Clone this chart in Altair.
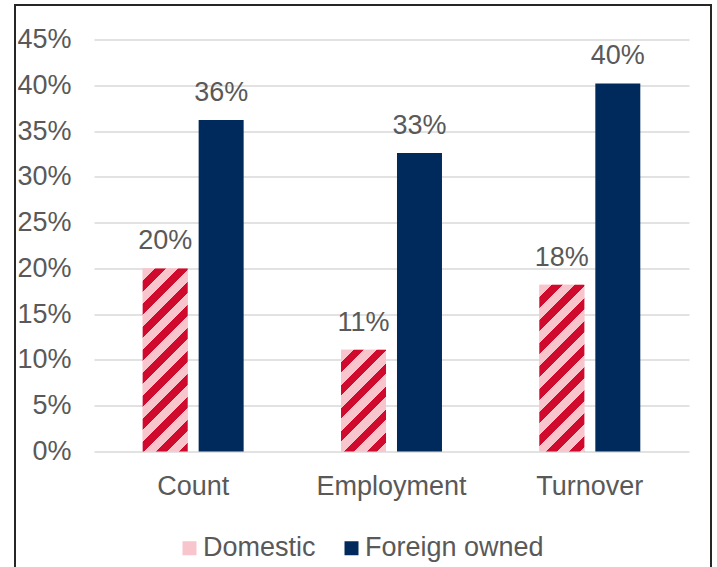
import altair as alt
import pandas as pd

# ---- data ----
categories = ["Count", "Employment", "Turnover"]
series = ["Domestic", "Foreign owned"]
domestic = [20.0, 11.1, 18.2]
foreign = [36.2, 32.6, 40.2]
y_ticks = [0, 5, 10, 15, 20, 25, 30, 35, 40, 45]

rows = []
for c, d, f in zip(categories, domestic, foreign):
    rows.append({"category": c, "series": "Domestic", "value": d})
    rows.append({"category": c, "series": "Foreign owned", "value": f})
df = pd.DataFrame(rows)

# ---- styling ----
W, H = 595, 412
PAD_L, PAD_T = 94, 39.5
FONT = "Liberation Sans"
FS = 27
TXT = "#595959"
NAVY = "#002a5c"
PINK = "#f8c5cc"
RED = "#cf0a2c"
Y_MAX = 45

PI, PO = 0.196, 0.87
band = W / len(categories)
sub_step = band / (len(series) - PI + 2 * PO)
bar_w = sub_step * (1 - PI)


def stripe_fill(value, period=23.0, red_frac=0.45):
    """Diagonal stripe look, built from a hard-stop linear gradient."""
    h = value / Y_MAX * H
    w = bar_w
    r = w / h
    gy = (r + 1) / (r * r + 1)
    gx = r * gy
    L = w + h
    p = period / L
    stops = []
    k = 0
    while k * p < 1.0 + p:
        s = k * p
        for off, col in ((s, PINK), (s + (1 - red_frac) * p, PINK),
                         (s + (1 - red_frac) * p, RED), (s + p, RED)):
            stops.append({"offset": max(0.0, min(1.0, off)), "color": col})
        k += 1
    return {"gradient": "linear", "x1": 0, "y1": 0, "x2": gx, "y2": gy,
            "stops": stops}


x_enc = alt.X("category:N", scale=alt.Scale(domain=categories, paddingInner=0, paddingOuter=0),
              axis=alt.Axis(title=None, labelAngle=0, labelFontSize=FS, labelFont=FONT,
                            labelColor=TXT, labelPadding=22, domain=False, ticks=False))
xo_enc = alt.XOffset("series:N", scale=alt.Scale(domain=series, paddingInner=PI, paddingOuter=PO))
y_enc = alt.Y("value:Q", scale=alt.Scale(domain=[0, Y_MAX], nice=False),
              axis=alt.Axis(title=None, values=y_ticks, labelExpr="datum.value + '%'",
                            labelFontSize=FS, labelFont=FONT, labelColor=TXT, labelPadding=23,
                            domain=False, ticks=False, gridColor="#d9d9d9", gridWidth=1.5))

bars = alt.Chart(df).mark_bar().encode(
    x=x_enc, xOffset=xo_enc, y=y_enc,
    color=alt.Color("series:N", scale=alt.Scale(domain=series, range=[PINK, NAVY]),
                    legend=alt.Legend(title=None, orient="none", direction="horizontal",
                                      legendX=82, legendY=495, labelFontSize=FS, labelFont=FONT,
                                      labelColor=TXT, symbolType="square", symbolSize=196,
                                      symbolStrokeWidth=0, labelOffset=0, columnPadding=22,
                                      labelLimit=0, padding=0))
)

layers = [bars]
for c, d in zip(categories, domestic):
    layers.append(
        alt.Chart(df).transform_filter(
            (alt.datum.category == c) & (alt.datum.series == "Domestic")
        ).mark_bar(fill=stripe_fill(d)).encode(x=x_enc, xOffset=xo_enc, y=y_enc)
    )

labels = alt.Chart(df).transform_calculate(
    label="round(datum.value) + '%'"
).mark_text(baseline="alphabetic", dy=-19, fontSize=FS, font=FONT, color=TXT).encode(
    x=x_enc, xOffset=xo_enc, y=y_enc, text="label:N"
)
layers.append(labels)

frame = alt.Chart(pd.DataFrame({"a": [0]})).mark_rect(
    filled=False, stroke="#262626", strokeWidth=2
).encode(
    x=alt.value(15 - PAD_L), x2=alt.value(711 - PAD_L),
    y=alt.value(5 - PAD_T), y2=alt.value(620 - PAD_T)
)
layers.append(frame)

chart = alt.layer(*layers).properties(
    width=W, height=H,
    autosize=alt.AutoSizeParams(type="none"),
    padding={"left": PAD_L, "top": PAD_T, "right": 717 - PAD_L - W,
             "bottom": 567 - PAD_T - H},
    background="white",
).configure_view(stroke=None)

chart.save("out.html", embed_options={"renderer": "svg", "actions": False})
